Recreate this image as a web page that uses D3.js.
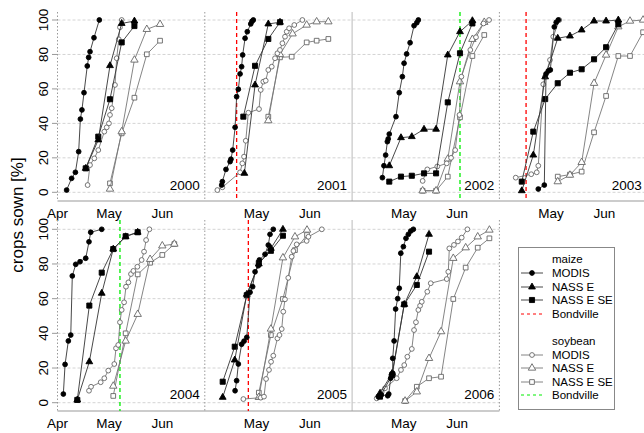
<!DOCTYPE html>
<html>
<head>
<meta charset="utf-8">
<script src="https://cdn.jsdelivr.net/npm/d3@7"></script>
<style>
  body { margin: 0; background: #fff; }
  svg { display: block; font-family: "Liberation Sans", Arial, sans-serif; }
</style>
</head>
<body>
<div id="chart"></div>
<script>
// Sowing progress, x = days after 1 April, y = crops sown [%]
const years = [2000, 2001, 2002, 2003, 2004, 2005, 2006];
const monthTicks = [0, 30, 61];
const monthLabels = ['Apr', 'May', 'Jun'];
const yTicks = [0, 20, 40, 60, 80, 100];

const maizeModis = {
  2000: [[5.3,1.3],[8.2,8.1],[10.4,11.6],[12.3,23.6],[13.3,42.5],[14.2,47.8],[15.4,57.8],[17.3,73.3],[18.1,78.3],[18.9,81.6],[21.2,89.7],[24.3,100]],
  2001: [[9.8,4.2],[10.2,6.2],[12.3,13.3],[14.7,17.8],[15.2,19.2],[16.2,24.5],[17.6,37.7],[18.5,55.5],[19.5,59.8],[20.5,68.7],[21.4,72.9],[22,79.7],[23.4,89.4],[24.7,93.2],[26.7,97.7],[27.4,99.2],[28.2,100]],
  2002: [[17.6,8.5],[18.5,15.4],[19.5,21.6],[20.5,29.4],[21,31],[21.6,33.8],[25.5,43.9],[27.4,57.8],[29.2,67.1],[30.2,74.9],[31.7,80.3],[33.7,86.8],[36,96.7],[37.6,98.4],[38.5,100]],
  2003: [[22.6,1.9],[26.1,4.2],[27.1,68.7],[28.4,70.4],[29.6,71],[31.9,96],[33,98.6],[34.2,100]],
  2004: [[3.4,5],[4.4,22.1],[6.3,35.6],[7.7,39],[8.6,73.1],[10.6,79.8],[13.1,81.3],[16.4,83.3],[18.3,92.8],[19.3,98.3],[25.7,100]],
  2005: [[17.6,6.9],[18.5,12.7],[19.5,22.3],[21.4,33.7],[22.8,35.5],[24.4,37.7],[26.3,63.7],[27.8,66.9],[29.2,75.5],[31.1,79],[31.7,82.3],[35,85.6],[36.9,90.9],[37.9,97.1],[39.8,100]],
  2006: [[15.2,3.5],[17,4.5],[20.7,4],[21.3,5],[22.4,14.1],[23.6,17],[23.6,25.6],[24.4,35.6],[25.3,54],[26.5,60],[27.4,66],[28.3,86.2],[29.8,90],[31.3,94.8],[32.7,97.1],[34.1,99],[35.6,100]]
};
const maizeNassE = {
  2000: [[16.4,13.9],[23.7,30.4],[30.5,73.5],[37.3,98],[44.7,99.4]],
  2001: [[23,11],[29.2,62.3],[36.9,97.7],[43.7,98.7]],
  2002: [[21.6,15.4],[28.4,31.7],[34.7,32.3],[41.8,36.6],[48.8,36.6],[55.6,79.7],[62.7,93.2],[69.9,99.6]],
  2003: [[13,0.9],[19.7,21.6],[26.6,67],[33.9,89.4],[41,90.7],[47.8,94.2],[55,99.4],[62,99.4],[69.1,100]],
  2004: [[11.5,1.6],[18.5,23.6],[25.7,63.1],[32.4,88.6],[39.6,95.7],[46.6,98.3]],
  2005: [[10.4,3.1],[17.4,24.6],[24.4,62.5],[31.4,80],[38.4,89],[45.4,100]],
  2006: [[16.2,5.4],[23.3,17],[30.3,56.7],[37.6,72.7],[44.7,97.1]]
};
const maizeNassESE = {
  2000: [[16.4,13.9],[23.7,32.3],[30.5,54],[37.3,87],[44.7,96.5]],
  2001: [[22.4,43.9],[29.2,73.4],[36.9,89],[43.7,98.7]],
  2002: [[21.6,6.2],[28.4,9.1],[34.7,9.6],[41.8,11],[48.8,11],[55.6,52.2],[62.7,80.7],[69.9,98]],
  2003: [[13,6.2],[19.7,35.2],[26.6,54.1],[33.9,63.3],[41,69.4],[47.8,71.4],[55,77.2],[62,84.2],[69.1,97.5]],
  2004: [[11.5,1.6],[18.5,56],[25.7,75],[32.4,88.6],[39.6,96],[46.6,98.3]],
  2005: [[10.4,12.1],[17.4,32.3],[24.4,62],[31.4,80.5],[38.4,87.6],[45.4,96.3]],
  2006: [[16.2,3.5],[23.3,16],[30.3,56.7],[37.6,67.9],[44.7,87.1]]
};
const soyModis = {
  2000: [[17.5,4.2],[18.9,15.8],[21.4,19.7],[23.7,24.5],[27.2,35.2],[28.6,37.7],[29.9,40],[30.5,44.9],[31.5,48.8],[33.4,62.3],[34.4,77.8],[35.6,88.8],[36.3,95.8],[37.3,100]],
  2001: [[7.3,1.3],[10.2,2.9],[20.5,11.6],[21.8,16.8],[22.8,20.7],[23.8,29.9],[25.3,46.2],[31.5,48.3],[32.5,59.4],[34,64.2],[35.4,64.8],[36.9,71],[38.9,72.9],[40.8,77.8],[42.2,80.7],[43.7,82.6],[45.1,86.5],[46.6,90.3],[47.6,93.2],[49,95.2],[52,97.1],[56.7,100]],
  2002: [[41,6.6],[43.7,13.3],[49.5,15],[55,16.8],[57.5,20],[59.9,24.5],[62.4,44.9],[63.5,67.1],[68.7,82.6],[72,90],[76.4,98],[79.6,100]],
  2003: [[9.5,8.5],[18.5,10.5],[21.7,11.6],[22.6,15.4],[25.5,62.7],[26.5,67],[29.4,76.8],[31.3,90.3],[34.8,100]],
  2004: [[18.3,6.9],[19.5,9.2],[25.1,11.8],[27.2,14.1],[29.5,18.5],[33,22.3],[34,31.4],[35.3,33.3],[36.3,46.4],[37.3,53.5],[38.7,57.9],[39.8,66.9],[41.2,69.4],[42.7,74.2],[44.1,76],[46.4,78.4],[48.9,82.3],[50.3,87.1],[51.5,93.8],[53.4,100]],
  2005: [[22.4,2.1],[32.5,2.9],[34.4,3.5],[35.6,13.7],[37.3,18.9],[38.5,23.6],[39.8,27.1],[42.2,37.1],[43.4,39],[44.7,42.5],[45.6,52.5],[46.6,59.6],[48.5,72],[50.5,84.2],[51.5,87.5],[53.4,91.3],[59.2,93.3],[60.2,95.7],[68,100]],
  2006: [[14.3,2.5],[17.2,6.3],[19.1,8.3],[25.9,14.1],[28.4,18.9],[30.3,21.7],[32.1,26.5],[34.7,31],[36,41.9],[37.1,46.4],[38.5,53.5],[39.5,55.9],[40.5,58.2],[43.7,64],[45.7,68.9],[55,71.3],[55.9,75.5],[56.5,89],[59.2,91],[61.5,93],[63.7,95.2],[67,100]]
};
const soyNassE = {
  2000: [[30.5,1.9],[37.3,35.2],[44.7,76.8],[51.9,94.6],[59.6,97.5]],
  2001: [[36.9,41.6],[43.7,80],[51,92],[59.2,97.1],[65,99],[71.8,99]],
  2002: [[41,0.9],[48.8,0.9],[55.6,19.3],[62.7,64.2],[69.9,88.8],[76.8,98.7]],
  2003: [[33.9,6.2],[41,10],[47.8,17.4],[55,63.3],[62,79.7],[69.1,96.1],[75.9,99.4],[83.5,100]],
  2004: [[32.4,9.6],[39.6,35.6],[46.6,51],[53.8,82.7],[60.9,90.5],[67.9,91.5]],
  2005: [[31.4,3.1],[38.4,42.5],[45.4,83.6],[52.4,95.7],[59.4,99.6]],
  2006: [[30.8,1],[37.6,6.3],[44.7,25.6],[51.7,41],[58.8,83.3],[66,89.4],[73,95.7],[79.8,99.6]]
};
const soyNassESE = {
  2000: [[30.5,5.2],[37.3,34.2],[44.7,54.9],[51.9,80.1],[59.6,88]],
  2001: [[36.9,43.9],[43.7,78.3],[50.5,78.7],[59.2,87],[65,88],[71.8,89]],
  2002: [[41,0.9],[48.8,0.9],[55.6,9.1],[62.7,43.5],[69.9,79.1],[76.8,91.3]],
  2003: [[33.9,9.1],[41,10.3],[47.8,12],[55,34.8],[62,55.9],[69.1,79.1],[75.9,79.1],[83.5,92.9]],
  2004: [[32.4,3.9],[39.6,40],[46.6,74],[53.8,80.7],[60.9,85.2],[67.9,91.5]],
  2005: [[31.4,5.8],[38.4,39],[45.4,59.8],[52.4,88],[59.4,96.7]],
  2006: [[30.8,1],[37.6,9.2],[44.7,14.1],[51.7,15],[58.8,59.8],[66,77.9],[73,89.4],[79.8,94.8]]
};
// Bondville sowing dates (days after 1 April)
const bondvilleMaize = { 2001: 18.5, 2003: 15.5, 2005: 25.3 };
const bondvilleSoy = { 2002: 62.7, 2004: 36.3 };

const W = 644, H = 433;
const panelW = 147.3;
const left = 57.5;
const rows = [
  { zero: 192.3, hundred: 20, top: 12, bottom: 201 },
  { zero: 402.7, hundred: 229.3, top: 220, bottom: 411 }
];

const svg = d3.select('#chart').append('svg')
  .attr('width', W).attr('height', H);

const series = [
  { data: soyNassESE, shape: d3.symbolSquare, size: 22, fill: '#fff', stroke: '#666', line: '#777' },
  { data: soyNassE, shape: d3.symbolTriangle, size: 24, fill: '#fff', stroke: '#666', line: '#777' },
  { data: soyModis, shape: d3.symbolCircle, size: 18, fill: '#fff', stroke: '#666', line: '#777' },
  { data: maizeNassESE, shape: d3.symbolSquare, size: 26, fill: '#000', stroke: '#000', line: '#333' },
  { data: maizeNassE, shape: d3.symbolTriangle, size: 20, fill: '#000', stroke: '#000', line: '#333' },
  { data: maizeModis, shape: d3.symbolCircle, size: 18, fill: '#000', stroke: '#000', line: '#333' }
];

// grid, axes and labels for each row
rows.forEach((r, ri) => {
  const nCols = ri === 0 ? 4 : 3;
  const xEnd = Math.min(left + nCols * panelW, W);
  const ys = d3.scaleLinear().domain([0, 100]).range([r.zero, r.hundred]);
  const g = svg.append('g');

  g.selectAll(null).data(yTicks).enter().append('line')
    .attr('x1', left).attr('x2', xEnd)
    .attr('y1', d => ys(d)).attr('y2', d => ys(d))
    .attr('stroke', '#d4d4d4').attr('stroke-dasharray', '3,2');

  for (let c = 0; c <= nCols; c++) {
    const x = left + c * panelW;
    g.append('line')
      .attr('x1', x).attr('x2', x).attr('y1', r.top).attr('y2', r.bottom)
      .attr('stroke', c === 2 ? '#bbb' : '#999')
      .attr('stroke-dasharray', c === 2 ? null : '1.5,2');
  }

  g.append('line')
    .attr('x1', left).attr('x2', xEnd)
    .attr('y1', r.bottom).attr('y2', r.bottom)
    .attr('stroke', '#999');

  g.selectAll(null).data(yTicks).enter().append('line')
    .attr('x1', 52).attr('x2', left)
    .attr('y1', d => ys(d)).attr('y2', d => ys(d))
    .attr('stroke', '#999');

  g.selectAll(null).data(yTicks).enter().append('text')
    .attr('transform', d => `translate(48,${ys(d)}) rotate(-90)`)
    .attr('text-anchor', 'middle')
    .attr('font-size', '13.5px')
    .text(d => d);

  for (let c = 0; c < nCols; c++) {
    const x0 = left + c * panelW;
    const xs = d3.scaleLinear().domain([0, 85.6]).range([x0, x0 + panelW]);
    monthTicks.forEach((m, i) => {
      if (c > 0 && i === 0) return;
      g.append('text')
        .attr('x', xs(m)).attr('y', r.bottom + 17)
        .attr('text-anchor', 'middle')
        .attr('font-size', '13.5px')
        .text(monthLabels[i]);
    });
  }
});

svg.append('text')
  .attr('transform', 'translate(23,215) rotate(-90)')
  .attr('text-anchor', 'middle')
  .attr('font-size', '17px')
  .text('crops sown [%]');

years.forEach((yr, i) => {
  const ri = i < 4 ? 0 : 1;
  const c = i < 4 ? i : i - 4;
  const r = rows[ri];
  const x0 = left + c * panelW;
  const xs = d3.scaleLinear().domain([0, 85.6]).range([x0, x0 + panelW]);
  const ys = d3.scaleLinear().domain([0, 100]).range([r.zero, r.hundred]);
  const g = svg.append('g');

  // Bondville dates
  [[bondvilleMaize, '#ff0000'], [bondvilleSoy, '#00ee00']].forEach(([bv, col]) => {
    if (bv[yr] === undefined) return;
    g.append('line')
      .attr('x1', xs(bv[yr])).attr('x2', xs(bv[yr]))
      .attr('y1', r.top).attr('y2', r.bottom)
      .attr('stroke', col).attr('stroke-width', 1.3).attr('stroke-dasharray', '4,3');
  });

  const line = d3.line().x(d => xs(d[0])).y(d => ys(d[1]));
  series.forEach(s => {
    const pts = s.data[yr];
    g.append('path').attr('d', line(pts))
      .attr('fill', 'none').attr('stroke', s.line).attr('stroke-width', 0.9);
    g.selectAll(null).data(pts).enter().append('path')
      .attr('transform', d => `translate(${xs(d[0])},${ys(d[1])})`)
      .attr('d', d3.symbol().type(s.shape).size(s.size))
      .attr('fill', s.fill).attr('stroke', s.stroke).attr('stroke-width', 0.9);
  });

  g.append('text')
    .attr('x', x0 + panelW - 5).attr('y', ri === 0 ? 190 : 399)
    .attr('text-anchor', 'end')
    .attr('font-size', '13.5px')
    .text(yr);
});

// legend
const legend = svg.append('g');
legend.append('rect')
  .attr('x', 518.5).attr('y', 247.5).attr('width', 96).attr('height', 162)
  .attr('fill', '#fff').attr('stroke', '#888');
const legendItems = [
  { label: 'maize', y: 263 },
  { label: 'MODIS', y: 277, s: series[5] },
  { label: 'NASS E', y: 291, s: series[4] },
  { label: 'NASS E SE', y: 304, s: series[3] },
  { label: 'Bondville', y: 318, dash: '#ff0000' },
  { label: 'soybean', y: 345 },
  { label: 'MODIS', y: 359, s: series[2] },
  { label: 'NASS E', y: 372, s: series[1] },
  { label: 'NASS E SE', y: 386, s: series[0] },
  { label: 'Bondville', y: 399, dash: '#00ee00' }
];
legendItems.forEach(it => {
  if (it.s) {
    legend.append('line').attr('x1', 521).attr('x2', 543)
      .attr('y1', it.y - 4).attr('y2', it.y - 4)
      .attr('stroke', it.s.line).attr('stroke-width', 0.9);
    legend.append('path')
      .attr('transform', `translate(532,${it.y - 4})`)
      .attr('d', d3.symbol().type(it.s.shape).size(it.s.size))
      .attr('fill', it.s.fill).attr('stroke', it.s.stroke).attr('stroke-width', 0.9);
  }
  if (it.dash) {
    legend.append('line').attr('x1', 521).attr('x2', 543)
      .attr('y1', it.y - 4).attr('y2', it.y - 4)
      .attr('stroke', it.dash).attr('stroke-dasharray', '3,3');
  }
  legend.append('text').attr('x', 552).attr('y', it.y)
    .attr('font-size', '11.5px').text(it.label);
});
</script>
</body>
</html>
